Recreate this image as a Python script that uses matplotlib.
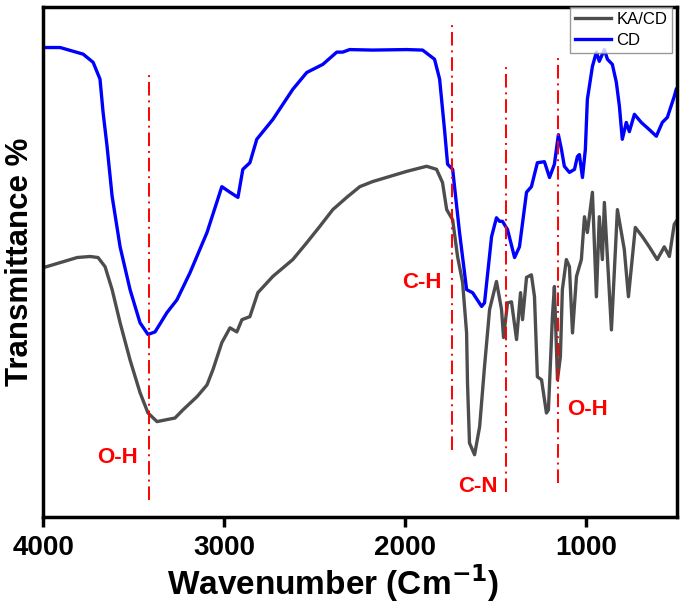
import numpy as np
import matplotlib
matplotlib.use('Agg')
import matplotlib.pyplot as plt

plt.rcParams['font.family'] = ['Liberation Sans', 'DejaVu Sans']

# CD spectrum (wavenumber cm-1, transmittance a.u.)
cd_wn = [4000, 3906, 3779, 3724, 3686, 3669, 3647, 3619, 3575, 3520, 3465, 3421, 3382, 3316,
         3261, 3189, 3095, 3013, 2968, 2924, 2897, 2858, 2820, 2731, 2621, 2544, 2455, 2378,
         2345, 2307, 2180, 1992, 1904, 1838, 1810, 1783, 1766, 1738, 1700, 1661, 1628, 1578,
         1562, 1523, 1496, 1479, 1463, 1435, 1396, 1369, 1330, 1303, 1270, 1231, 1203, 1176,
         1154, 1137, 1121, 1093, 1065, 1049, 1038, 1021, 1005, 994, 966, 944, 928, 911, 900,
         883, 856, 834, 817, 801, 779, 762, 734, 696, 652, 613, 580, 552, 514, 503]
cd_t = [92.1, 92.1, 90.8, 89.2, 85.9, 79.4, 72.7, 62.9, 53.0, 44.6, 38.1, 35.8, 36.3, 40.1,
        42.6, 47.9, 55.8, 64.8, 63.7, 62.7, 68.2, 69.5, 74.1, 78.0, 83.9, 87.2, 88.8, 91.2,
        91.2, 91.7, 91.6, 91.7, 91.6, 89.8, 85.9, 76.0, 69.2, 68.2, 55.8, 44.6, 44.0, 41.3,
        42.0, 55.0, 58.7, 58.0, 58.0, 56.4, 50.9, 53.0, 63.7, 64.8, 69.5, 69.7, 66.6, 69.2,
        75.0, 72.1, 68.8, 67.6, 68.2, 70.7, 71.1, 66.6, 72.1, 81.9, 88.4, 91.2, 89.4, 90.8, 91.7,
        89.8, 88.8, 85.3, 80.6, 74.1, 77.4, 75.6, 79.0, 77.4, 76.0, 74.7, 77.4, 78.4, 82.5, 83.9]

# KA/CD spectrum
ka_wn = [4000, 3906, 3812, 3741, 3697, 3658, 3619, 3575, 3520, 3465, 3421, 3371, 3316, 3272,
         3228, 3150, 3095, 3062, 3013, 2968, 2930, 2902, 2858, 2814, 2731, 2621, 2544, 2472,
         2400, 2323, 2251, 2180, 2086, 1992, 1882, 1827, 1794, 1771, 1738, 1711, 1683, 1661,
         1656, 1645, 1617, 1589, 1562, 1534, 1496, 1468, 1457, 1435, 1413, 1385, 1363, 1352,
         1330, 1303, 1286, 1270, 1247, 1220, 1209, 1187, 1176, 1159, 1143, 1132, 1110, 1093,
         1076, 1054, 1027, 1010, 994, 966, 944, 928, 911, 900, 861, 828, 790, 767, 729, 690,
         652, 608, 569, 541, 514, 503]
ka_t = [48.9, 49.9, 50.9, 51.1, 50.9, 49.1, 44.6, 38.1, 30.8, 24.4, 20.4, 18.7, 19.1, 19.4,
        21.0, 23.6, 25.9, 28.9, 34.2, 37.1, 36.3, 38.7, 39.3, 44.0, 47.2, 50.5, 53.8, 57.0,
        60.3, 62.7, 64.8, 65.8, 66.8, 67.8, 68.8, 68.2, 65.6, 60.3, 58.3, 51.1, 46.0, 36.1,
        26.3, 14.5, 12.2, 17.7, 29.5, 40.7, 46.2, 40.7, 35.2, 42.0, 42.2, 34.8, 44.0, 38.7,
        47.0, 47.5, 43.2, 27.5, 26.9, 20.4, 21.0, 39.3, 45.2, 26.9, 31.4, 44.6, 50.5, 49.1,
        36.1, 47.2, 50.5, 58.9, 55.8, 63.7, 43.2, 58.9, 50.5, 61.7, 36.7, 60.3, 52.5, 43.2, 56.8, 55.0,
        53.0, 50.5, 53.0, 51.1, 57.4, 58.0]

# band markers: position, line bottom/top, label, label position
band_wn = [3415, 1744, 1441, 1154]
band_lo = [3.3, 13.2, 4.9, 6.7]
band_hi = [87.2, 97.1, 88.4, 90.8]
band_labels = ['O-H', 'C-H', 'C-N', 'O-H']
label_wn = [3592, 1909, 1600, 994]
label_t = [11.6, 46.0, 5.9, 21.0]

fig = plt.figure(figsize=(6.85, 6.06), dpi=100)
ax = fig.add_axes([0.063, 0.147, 0.925, 0.841])

ax.plot(ka_wn, ka_t, color='#4d4d4d', lw=2.4, label='KA/CD', solid_joinstyle='round')
ax.plot(cd_wn, cd_t, color='#0000ff', lw=2.4, label='CD', solid_joinstyle='round')

for wn, lo, hi in zip(band_wn, band_lo, band_hi):
    ax.plot([wn, wn], [lo, hi], color='red', lw=1.4, linestyle=(0, (7, 2.5, 1, 2.5)))
for txt, x, y in zip(band_labels, label_wn, label_t):
    ax.text(x, y, txt, color='red', fontsize=16, fontweight='bold', ha='center', va='center')

ax.set_xlim(4000, 500)
ax.set_ylim(0, 100)
ax.set_xticks([4000, 3000, 2000, 1000])
ax.set_yticks([])
ax.tick_params(axis='x', direction='out', length=7, width=2.5, labelsize=20, pad=6)
for lbl in ax.get_xticklabels():
    lbl.set_fontweight('bold')
for sp in ax.spines.values():
    sp.set_linewidth(2.5)

ax.set_xlabel(r'Wavenumber (Cm$^{\mathbf{-1}}$)', fontsize=24, fontweight='bold')
ax.xaxis.set_label_coords(0.458, -0.088)
ax.set_ylabel('Transmittance %', fontsize=22.5, fontweight='bold', labelpad=6)

leg = ax.legend(loc='upper right', bbox_to_anchor=(0.993, 1.0), fontsize=12, frameon=True,
                fancybox=False, edgecolor='#808080', handlelength=2.2, handletextpad=0.3,
                borderpad=0.3, labelspacing=0.35, borderaxespad=0)
leg.get_frame().set_linewidth(1.0)

fig.savefig('out.png', dpi=100)
